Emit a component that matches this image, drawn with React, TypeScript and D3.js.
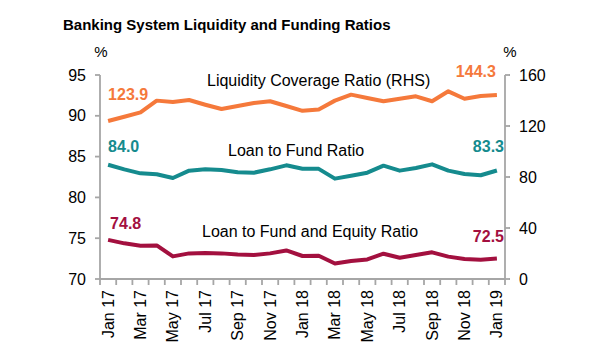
import React from "react";
import * as d3 from "d3";

const months = [
  "Jan 17","Feb 17","Mar 17","Apr 17","May 17","Jun 17","Jul 17","Aug 17","Sep 17","Oct 17","Nov 17","Dec 17",
  "Jan 18","Feb 18","Mar 18","Apr 18","May 18","Jun 18","Jul 18","Aug 18","Sep 18","Oct 18","Nov 18","Dec 18","Jan 19",
];
const lcr = [123.9,127.3,130.7,139.9,138.8,140.4,136.7,133.3,135.7,138.0,139.4,135.7,131.9,133.0,139.9,144.6,142.0,139.4,141.4,143.3,139.4,147.2,141.4,143.5,144.3];
const ltf = [84.0,83.44,82.95,82.83,82.38,83.28,83.44,83.36,83.07,83.03,83.44,83.93,83.52,83.5,82.3,82.66,83.03,83.89,83.28,83.6,84.05,83.28,82.87,82.71,83.3];
const ltfe = [74.8,74.37,74.08,74.12,72.77,73.14,73.19,73.14,73.0,72.94,73.14,73.5,72.82,72.85,71.9,72.2,72.4,73.1,72.6,72.94,73.27,72.74,72.45,72.37,72.5];
const leftTicks = [70, 75, 80, 85, 90, 95];
const rightTicks = [0, 40, 80, 120, 160];

const FONT = "Liberation Sans, Arial, sans-serif";
const ORANGE = "#F5793B";
const TEAL = "#158B8E";
const MAROON = "#A3103F";
const AXIS = "#A6A6A6";

export default function App() {
  const L = 100, R = 505, T = 75, B = 279;
  const x = d3.scaleBand<string>().domain(months).range([L, R]);
  const yL = d3.scaleLinear().domain([70, 95]).range([B, T]);
  const yR = d3.scaleLinear().domain([0, 160]).range([B, T]);
  const cx = (i: number) => (x(months[i]) as number) + x.bandwidth() / 2;
  const lineL = d3.line<number>().x((_, i) => cx(i)).y((d) => yL(d));
  const lineR = d3.line<number>().x((_, i) => cx(i)).y((d) => yR(d));
  const boundaries = months.map((m) => x(m) as number).concat([R]);
  const last = months.length - 1;

  return (
    <svg width={600} height={360} style={{ position: "absolute", left: 0, top: 0, background: "#fff" }} fontFamily={FONT}>
      <text x={63} y={30} fontSize={15} fontWeight="bold" fill="#000">Banking System Liquidity and Funding Ratios</text>
      <text x={101} y={56.5} fontSize={15} textAnchor="middle" fill="#000">%</text>
      <text x={510} y={56.5} fontSize={15} textAnchor="middle" fill="#000">%</text>

      {/* axes */}
      <line x1={L} y1={T} x2={L} y2={B} stroke={AXIS} strokeWidth={1.8} />
      <line x1={R} y1={T} x2={R} y2={B} stroke={AXIS} strokeWidth={1.8} />
      <line x1={L} y1={B} x2={R} y2={B} stroke={AXIS} strokeWidth={1.8} />
      {leftTicks.map((t) => (
        <g key={"l" + t}>
          <line x1={L - 5} x2={L} y1={yL(t)} y2={yL(t)} stroke={AXIS} strokeWidth={1.8} />
          <text x={86} y={yL(t) + 5.5} fontSize={16} textAnchor="end" fill="#000">{t}</text>
        </g>
      ))}
      {rightTicks.map((t) => (
        <g key={"r" + t}>
          <line x1={R} x2={R + 5} y1={yR(t)} y2={yR(t)} stroke={AXIS} strokeWidth={1.8} />
          <text x={519} y={yR(t) + 5.5} fontSize={16} textAnchor="start" fill="#000">{t}</text>
        </g>
      ))}
      {boundaries.map((b, i) => (
        <line key={"b" + i} x1={b} x2={b} y1={B} y2={B + 6} stroke={AXIS} strokeWidth={1.8} />
      ))}
      {months.map((m, i) =>
        i % 2 === 0 ? (
          <text key={m} transform={`translate(${cx(i) + 5.5},290) rotate(-90)`} fontSize={16} textAnchor="end" fill="#000">{m}</text>
        ) : null
      )}

      {/* lines */}
      <path d={lineR(lcr) || ""} fill="none" stroke={ORANGE} strokeWidth={4} strokeLinejoin="round" />
      <path d={lineL(ltf) || ""} fill="none" stroke={TEAL} strokeWidth={4} strokeLinejoin="round" />
      <path d={lineL(ltfe) || ""} fill="none" stroke={MAROON} strokeWidth={4} strokeLinejoin="round" />

      {/* series labels */}
      <text x={207} y={86} fontSize={16} fill="#000">Liquidity Coverage Ratio (RHS)</text>
      <text x={228} y={156} fontSize={16} fill="#000">Loan to Fund Ratio</text>
      <text x={202} y={236.5} fontSize={16} fill="#000">Loan to Fund and Equity Ratio</text>

      {/* value labels */}
      <text x={cx(0)} y={100} fontSize={16} fontWeight="bold" fill={ORANGE}>{lcr[0].toFixed(1)}</text>
      <text x={cx(0)} y={152} fontSize={16} fontWeight="bold" fill={TEAL}>{ltf[0].toFixed(1)}</text>
      <text x={cx(0) + 2} y={229} fontSize={16} fontWeight="bold" fill={MAROON}>{ltfe[0].toFixed(1)}</text>
      <text x={cx(last) - 1} y={77} fontSize={16} fontWeight="bold" fill={ORANGE} textAnchor="end">{lcr[last].toFixed(1)}</text>
      <text x={504} y={152} fontSize={16} fontWeight="bold" fill={TEAL} textAnchor="end">{ltf[last].toFixed(1)}</text>
      <text x={504} y={242} fontSize={16} fontWeight="bold" fill={MAROON} textAnchor="end">{ltfe[last].toFixed(1)}</text>
    </svg>
  );
}
